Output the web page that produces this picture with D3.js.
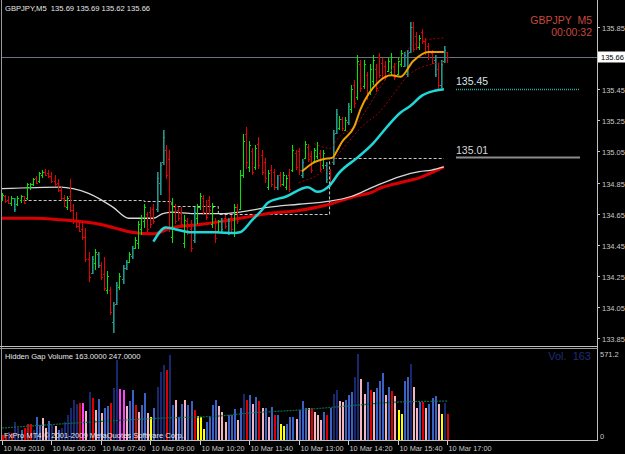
<!DOCTYPE html>
<html><head><meta charset="utf-8">
<script src="https://cdnjs.cloudflare.com/ajax/libs/d3/7.8.5/d3.min.js"></script>
<style>html,body{margin:0;padding:0;background:#000;overflow:hidden}svg{display:block}</style>
</head><body>
<script>
// ---------------- DATA ----------------
const symbolTitle = "GBPJPY,M5  135.69 135.69 135.62 135.66";
const timeLabels = ["10 Mar 2010","10 Mar 06:20","10 Mar 07:40","10 Mar 09:00","10 Mar 10:20","10 Mar 11:40","10 Mar 13:00","10 Mar 14:20","10 Mar 15:40","10 Mar 17:00"];
const timeLabelIdx = [0,16,32,48,64,80,96,112,128,144];
const priceTicks = [135.85,135.45,135.25,135.05,134.85,134.65,134.45,134.25,134.05,133.85];
const lastPrice = 135.66;

const open = [134.74,134.76,134.74,134.72,134.75,134.71,134.74,134.76,134.75,134.82,134.84,134.88,134.86,134.90,134.92,134.91,134.89,134.86,134.85,134.80,
134.75,134.69,134.76,134.67,134.60,134.57,134.55,134.50,134.36,134.27,134.33,134.39,134.32,134.26,134.16,134.16,133.95,134.07,134.18,134.23,
134.30,134.34,134.38,134.43,134.46,134.55,134.60,134.65,134.66,134.68,134.68,134.85,134.98,135.06,135.00,134.50,134.69,134.67,134.66,134.46,
134.60,134.55,134.48,134.62,134.69,134.75,134.70,134.74,134.58,134.60,134.54,134.60,134.62,134.53,134.62,134.53,134.69,134.68,134.90,135.16,
134.95,135.05,134.95,135.10,135.03,134.98,134.82,134.93,134.92,134.82,134.90,134.84,134.82,134.90,134.93,135.04,135.05,134.90,135.01,135.08,
135.02,134.99,135.02,135.04,134.96,134.96,134.92,134.98,135.17,135.20,135.26,135.19,135.24,135.32,135.48,135.40,135.61,135.47,135.54,135.43,
135.50,135.58,135.66,135.62,135.60,135.57,135.56,135.60,135.55,135.61,135.60,135.55,135.69,135.85,135.79,135.72,135.82,135.76,135.73,135.68,
135.64,135.58,135.48,135.63,135.69];
const high = [134.78,134.77,134.76,134.76,134.75,134.76,134.77,134.76,134.85,134.85,134.88,134.89,134.92,134.93,134.94,134.93,134.92,134.90,134.87,134.82,
134.77,134.76,134.87,134.71,134.66,134.61,134.60,134.56,134.40,134.38,134.42,134.40,134.34,134.37,134.28,134.18,134.08,134.21,134.27,134.32,
134.35,134.40,134.44,134.50,134.60,134.64,134.71,134.66,134.69,134.71,134.92,134.98,135.19,135.09,135.06,134.75,134.71,134.69,134.69,134.64,
134.62,134.61,134.69,134.71,134.78,134.77,134.74,134.76,134.72,134.62,134.61,134.62,134.64,134.62,134.64,134.71,134.71,134.93,135.16,135.21,
135.12,135.07,135.09,135.14,135.06,135.01,134.93,134.96,134.94,134.90,134.92,134.92,134.90,134.94,135.09,135.06,135.07,135.00,135.12,135.10,
135.05,135.07,135.11,135.06,135.06,134.98,134.94,135.19,135.32,135.28,135.27,135.27,135.36,135.48,135.51,135.67,135.64,135.64,135.56,135.61,
135.67,135.61,135.68,135.65,135.63,135.65,135.68,135.62,135.65,135.70,135.69,135.70,135.88,135.88,135.82,135.80,135.84,135.78,135.75,135.70,
135.67,135.62,135.64,135.73,135.69];
const low = [134.73,134.72,134.71,134.70,134.66,134.70,134.72,134.71,134.74,134.80,134.83,134.84,134.85,134.88,134.89,134.88,134.85,134.83,134.79,134.74,
134.69,134.67,134.66,134.58,134.56,134.53,134.48,134.34,134.21,134.26,134.29,134.30,134.22,134.15,134.13,134.00,133.88,134.06,134.16,134.20,
134.29,134.33,134.36,134.42,134.42,134.51,134.56,134.53,134.56,134.58,134.66,134.77,134.96,134.87,134.53,134.46,134.58,134.60,134.56,134.43,
134.51,134.40,134.46,134.58,134.67,134.64,134.61,134.65,134.56,134.46,134.53,134.53,134.55,134.51,134.53,134.50,134.58,134.67,134.88,134.94,
134.92,134.90,134.93,134.94,134.90,134.85,134.80,134.82,134.80,134.80,134.82,134.83,134.80,134.79,134.92,134.93,134.90,134.88,135.00,134.98,
134.91,134.98,135.00,134.92,134.94,134.85,134.82,134.96,135.16,135.19,135.18,135.18,135.22,135.30,135.33,135.38,135.43,135.45,135.38,135.41,
135.48,135.43,135.52,135.51,135.51,135.56,135.54,135.51,135.54,135.59,135.59,135.53,135.68,135.69,135.70,135.70,135.74,135.67,135.64,135.61,
135.53,135.45,135.46,135.62,135.62];
const close = [134.77,134.73,134.72,134.75,134.68,134.75,134.76,134.72,134.84,134.84,134.87,134.85,134.91,134.92,134.90,134.89,134.86,134.84,134.80,134.75,
134.70,134.75,134.67,134.60,134.57,134.54,134.50,134.36,134.24,134.36,134.40,134.32,134.24,134.17,134.25,134.02,134.06,134.19,134.25,134.30,
134.34,134.39,134.43,134.48,134.58,134.62,134.69,134.55,134.58,134.60,134.88,134.96,135.14,134.90,134.56,134.70,134.60,134.62,134.58,134.61,
134.53,134.43,134.66,134.69,134.76,134.66,134.63,134.67,134.69,134.49,134.60,134.55,134.57,134.60,134.55,134.69,134.60,134.90,135.12,134.98,
135.09,134.92,135.07,134.96,134.92,134.88,134.91,134.84,134.82,134.88,134.84,134.90,134.88,134.81,135.06,134.95,134.93,134.98,135.10,135.00,
134.93,135.06,135.09,134.94,135.04,134.87,134.84,135.16,135.29,135.26,135.20,135.25,135.34,135.45,135.36,135.63,135.46,135.61,135.41,135.58,
135.64,135.46,135.54,135.53,135.53,135.63,135.66,135.53,135.63,135.68,135.67,135.68,135.85,135.71,135.72,135.78,135.76,135.69,135.66,135.62,
135.55,135.48,135.61,135.70,135.66];
// bars painted dark teal (dotted) by the overlay indicator
const tealBars = [4,29,31,36,37,39,40,42,50,51,52,62,71,73,89,97,105,107,108,112,130,131,132,140,142,143];

// moving averages / bands: [bar index, price]
const fastMA = [[97,134.92],[101,134.98],[104,135.00],[107,135.01],[108,135.04],[110,135.11],[114,135.21],[116,135.32],[122,135.50],[126,135.54],[129,135.53],[133,135.63],[138,135.69],[143,135.69]];
const bandUpper = [[101,135.10],[106,135.07],[109,135.14],[115,135.23],[118,135.32],[122,135.45],[127,135.60],[131,135.70],[136,135.76],[143,135.78]];
const bandLower = [[96,134.85],[106,134.96],[110,135.06],[117,135.22],[122,135.30],[126,135.40],[131,135.53],[139,135.61],[143,135.62]];
const cyanMA = [[49,134.47],[53,134.56],[56,134.55],[61,134.53],[69,134.53],[75,134.525],[77,134.53],[81,134.61],[84,134.67],[86,134.72],[92,134.76],[99,134.82],[102,134.79],[106,134.83],[109,134.91],[115,135.01],[120,135.10],[123,135.17],[126,135.24],[129,135.30],[132,135.34],[136,135.41],[140,135.44],[143,135.45]];
const whiteMA = [[0,134.81],[19,134.82],[23,134.81],[28,134.78],[32,134.74],[36,134.69],[41,134.62],[45,134.62],[49,134.62],[52,134.65],[55,134.66],[62,134.65],[71,134.65],[77,134.66],[86,134.69],[96,134.71],[106,134.73],[113,134.76],[120,134.82],[129,134.89],[135,134.92],[139,134.93],[143,134.95]];
const redMA = [[0,134.62],[10,134.62],[19,134.61],[32,134.58],[36,134.56],[42,134.53],[49,134.52],[55,134.56],[64,134.58],[71,134.60],[77,134.62],[83,134.64],[86,134.65],[96,134.67],[106,134.71],[114,134.76],[120,134.79],[122,134.81],[129,134.85],[135,134.88],[143,134.95]];
const levelIdx = [7,46,55,70,106,143];
const levelPrice = [134.74,134.73,134.70,134.65,135.01,135.01];
const cyanLevel = 135.45, greyLevel = 135.01;

const volume = [32,38,51,44,114,76,63,76,102,102,63,146,95,140,76,121,95,89,63,76,
114,159,203,254,228,235,235,184,305,267,190,260,171,203,216,235,330,508,324,317,
216,248,317,222,178,222,298,171,146,203,336,432,476,444,540,222,254,146,228,254,
222,248,190,152,146,70,114,146,222,254,216,178,114,159,159,197,127,203,292,254,
286,228,273,248,203,203,146,209,159,159,102,89,102,146,146,133,190,248,203,203,
203,178,159,127,178,159,203,292,317,248,241,254,286,305,400,546,387,292,368,317,
305,330,374,425,286,336,311,279,190,165,374,400,482,336,203,241,241,203,228,267,
279,228,165,235,163];
const volType = "RRNRNNBRRRNBBPPBNPBNNNNNNRMPNRPBPBBRNNMMPBBRPBBPYBNNNRNBPBBPBBRYYYBBBBPPPBBBPBNRBPBRPBPBRBYYBBBPBBBPRPPPBRBNNPPBBBNNPPBRPBBBPBRPYYBBNPPBRPBBBPYNR";
const volMA = [[0,76],[24,108],[53,140],[70,152],[80,171],[96,190],[112,216],[128,241],[144,247]];
const volMax = 571.2;

// ---------------- LAYOUT ----------------
const W = 625, H = 454;
const svg = d3.select("body").append("svg").attr("width", W).attr("height", H)
  .style("background", "#000").style("font-family", "'Liberation Sans', sans-serif");

const x = d3.scaleLinear().domain([0, 144]).range([2, 447]);
const y = d3.scaleLinear().domain([133.85, 135.85]).range([338, 27]);
const yv = d3.scaleLinear().domain([0, volMax]).range([440, 350]);

const axisCol = "#c8c8c8";

// frame lines
svg.append("line").attr("x1",1.5).attr("x2",1.5).attr("y1",0).attr("y2",440).attr("stroke","#9a9a9a");
svg.append("line").attr("x1",597.5).attr("x2",597.5).attr("y1",0).attr("y2",441).attr("stroke","#c0c0c0");
svg.append("line").attr("x1",0).attr("x2",598).attr("y1",346.5).attr("y2",346.5).attr("stroke","#c0c0c0");
svg.append("line").attr("x1",0).attr("x2",598).attr("y1",348.5).attr("y2",348.5).attr("stroke","#9a9a9a");
svg.append("line").attr("x1",0).attr("x2",598).attr("y1",440.5).attr("y2",440.5).attr("stroke","#c0c0c0");

const main = svg.append("g");

// current price line
main.append("line").attr("x1",2).attr("x2",597).attr("y1",Math.round(y(lastPrice))+0.5).attr("y2",Math.round(y(lastPrice))+0.5)
  .attr("stroke","#6a7282").attr("stroke-width",1);

const line = d3.line().x(d => x(d[0])).y(d => y(d[1])).curve(d3.curveMonotoneX);

// level step line (dashed)
const levelPts = levelIdx.map((d,i)=>[d, levelPrice[i]]);
main.append("path").attr("d", d3.line().x(d=>x(d[0])).y(d=>Math.round(y(d[1]))+0.5).curve(d3.curveStepAfter)(levelPts))
  .attr("fill","none").attr("stroke","#c8c8c8").attr("stroke-width",1).attr("stroke-dasharray","3,2");

// slow lines
main.append("path").attr("d", line(redMA)).attr("fill","none").attr("stroke","#d80000").attr("stroke-width",3);
main.append("path").attr("d", line(whiteMA)).attr("fill","none").attr("stroke","#d8d8d8").attr("stroke-width",1.3);

// price bars (OHLC)
const n = open.length;
const tealSet = new Set(tealBars);
const bars = main.append("g");
for (let i = 0; i < n; i++) {
  const up = close[i] >= open[i];
  const teal = tealSet.has(i);
  const col = teal ? "#23958c" : (up ? "#00e800" : "#e80000");
  const cx = Math.round(x(i));
  const yh = Math.round(y(high[i])), yl = Math.round(y(low[i]));
  bars.append("rect").attr("x",cx).attr("y",yh).attr("width",teal?1.6:1).attr("height",Math.max(1,yl-yh)).attr("fill",col);
  bars.append("rect").attr("x",cx-1).attr("y",Math.round(y(open[i]))).attr("width",1).attr("height",1).attr("fill",col);
  bars.append("rect").attr("x",cx+1).attr("y",Math.round(y(close[i]))).attr("width",1).attr("height",1).attr("fill",col);
}

// bands and fast lines
main.append("path").attr("d", line(bandUpper)).attr("fill","none").attr("stroke","#a00000").attr("stroke-width",1).attr("stroke-dasharray","2,2");
main.append("path").attr("d", line(bandLower)).attr("fill","none").attr("stroke","#a00000").attr("stroke-width",1).attr("stroke-dasharray","2,2");
main.append("path").attr("d", line(cyanMA)).attr("fill","none").attr("stroke","#20d8d8").attr("stroke-width",2.5);
main.append("path").attr("d", line(fastMA)).attr("fill","none").attr("stroke","#f0a000").attr("stroke-width",2);

// level labels at right
main.append("line").attr("x1",456).attr("x2",580).attr("y1",Math.round(y(cyanLevel))+0.5).attr("y2",Math.round(y(cyanLevel))+0.5)
  .attr("stroke","#2aa8a8").attr("stroke-width",1.5).attr("stroke-dasharray","1,1");
main.append("text").attr("x",456).attr("y",y(cyanLevel)-4).text(d3.format(".2f")(cyanLevel))
  .attr("fill","#d8e4ec").attr("font-size",10.5);
main.append("line").attr("x1",456).attr("x2",580).attr("y1",y(greyLevel)).attr("y2",y(greyLevel))
  .attr("stroke","#8c8c8c").attr("stroke-width",2);
main.append("text").attr("x",456).attr("y",y(greyLevel)-4).text(d3.format(".2f")(greyLevel))
  .attr("fill","#d8d8d8").attr("font-size",10.5);

// titles
svg.append("text").attr("x",5).attr("y",11).text(symbolTitle).style("white-space","pre").attr("fill","#e8e8e8").attr("font-size",7.6);
svg.append("text").attr("x",592).attr("y",24).attr("text-anchor","end").text("GBPJPY  M5").style("white-space","pre").attr("fill","#c8483c").attr("font-size",10.5);
svg.append("text").attr("x",592).attr("y",36).attr("text-anchor","end").text("00:00:32").attr("fill","#c8483c").attr("font-size",10.5);

// price axis
const pa = svg.append("g");
priceTicks.forEach(p => {
  const yy = Math.round(y(p)) + 0.5;
  pa.append("line").attr("x1",598).attr("x2",600).attr("y1",yy).attr("y2",yy).attr("stroke",axisCol);
  pa.append("text").attr("x",602).attr("y",yy+3).text(d3.format(".2f")(p)).attr("fill",axisCol).attr("font-size",7.5);
});
const ly = Math.round(y(lastPrice));
pa.append("rect").attr("x",598).attr("y",ly-5.5).attr("width",27).attr("height",11).attr("fill","#fff");
pa.append("text").attr("x",601).attr("y",ly+3).text(d3.format(".2f")(lastPrice)).attr("fill","#000").attr("font-size",7.5);

// ---------------- VOLUME PANEL ----------------
const vcol = {N:"#18286e", B:"#3a62c4", P:"#f4b4c0", R:"#e00000", M:"#ff40ff", Y:"#ffff00"};
const vg = svg.append("g");
volume.forEach((v,i) => {
  const cx = Math.round(x(i));
  vg.append("rect").attr("x",cx).attr("y",Math.round(yv(v))).attr("width",2).attr("height",440-Math.round(yv(v))).attr("fill",vcol[volType[i]]);
});
vg.append("path").attr("d", d3.line().x(d=>x(d[0])).y(d=>yv(d[1])).curve(d3.curveMonotoneX)(volMA))
  .attr("fill","none").attr("stroke","#0e6a4a").attr("stroke-width",1.2).attr("stroke-dasharray","2,1");

svg.append("text").attr("x",5).attr("y",359).text("Hidden Gap Volume 163.0000 247.0000").attr("fill","#e8e8e8").attr("font-size",7.6);
svg.append("text").attr("x",591).attr("y",360).attr("text-anchor","end").text("Vol.  163").style("white-space","pre").attr("fill","#1e2e78").attr("font-size",11);
svg.append("text").attr("x",4).attr("y",438).text("FxPro MT4 \u00a9 2001-2009 MetaQuotes Software Corp.").attr("fill","#e4e4ec").attr("font-size",7.6);

svg.append("text").attr("x",600).attr("y",357).text("571.2").attr("fill",axisCol).attr("font-size",7.5);
svg.append("text").attr("x",600).attr("y",439).text("0").attr("fill",axisCol).attr("font-size",7.5);

// time axis
const ta = svg.append("g");
timeLabelIdx.forEach((idx,k) => {
  const xx = Math.round(x(idx)) + 0.5;
  ta.append("line").attr("x1",xx).attr("x2",xx).attr("y1",441).attr("y2",445).attr("stroke",axisCol);
  ta.append("text").attr("x",xx+1).attr("y",451).text(timeLabels[k]).attr("fill",axisCol).attr("font-size",7.3);
});
</script>
</body></html>
